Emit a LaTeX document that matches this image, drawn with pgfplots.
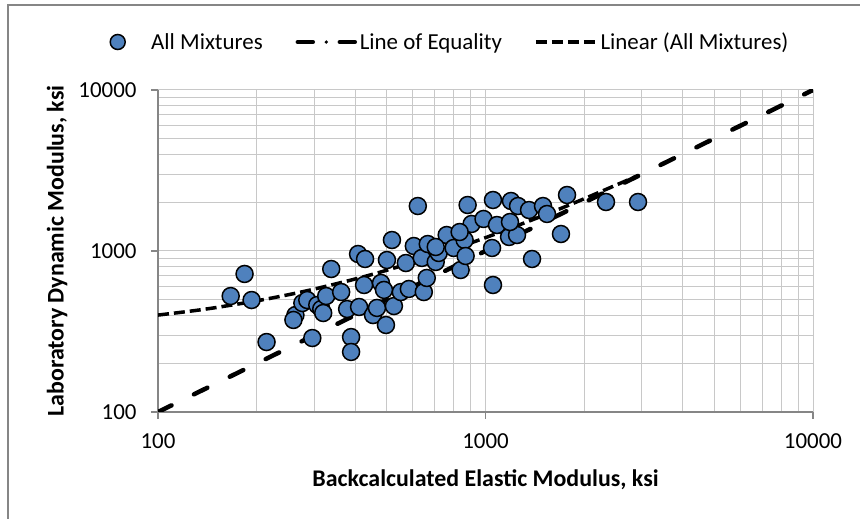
\documentclass[border=0pt]{standalone}
\usepackage{fontspec}
\setmainfont{Carlito}
\usepackage{pgfplots}
\usepackage{pgfplotstable}
\pgfplotsset{compat=1.18}
\definecolor{mixblue}{RGB}{79,129,189}
\definecolor{gridgray}{RGB}{200,200,200}
\definecolor{axisgray}{RGB}{134,134,134}
\pgfplotsset{
  linelegend/.style={legend image code/.code={\path[draw=none,fill=none] (0bp,0bp) -- (63bp,0bp); \draw[##1] (1bp,0bp) -- (62bp,0bp);}},
  eqlegend/.style={legend image code/.code={\path[draw=none,fill=none] (0bp,0bp) -- (63bp,0bp);
     \draw[black, line width=4.5bp, line cap=round, solid] (3bp,0bp) -- (18bp,0bp);
     \path[fill=black, draw=none] (31.5bp,0bp) circle (1.8bp);
     \draw[black, line width=4.5bp, line cap=round, solid] (45bp,0bp) -- (60bp,0bp);}},
  marklegend/.style={legend image code/.code={\path[draw=none,fill=none] (0bp,0bp) -- (63bp,0bp); \draw[##1, mark size=7.5bp] plot coordinates {(31.5bp,0bp)};}},
}
\pgfplotstableread{
x y
166.7 525
183.8 720
193.1 496
214.5 272
262.8 400
259.1 373
275.9 475
285.6 496
295.9 288
306.4 462
315.1 436
319.5 412
326.3 525
338 773
362.5 556
378 436
388.7 292
388.7 236
408.2 958
428.8 892
411.1 449
425.8 615
453.4 400
466.3 443
479.6 633
489.8 573
496.6 347
500.1 879
518 1170
525.2 455
551.5 556
571.2 842
583.4 581
604.2 1074
621.3 1903
639 905
648 556
661.7 680
666.3 1105
704.7 855
719.6 972
761.2 1257
799.3 1044
839.5 762
863.4 1170
869.5 931
881.8 1931
906.7 1472
986.1 1581
1047 1044
1054 2074
1054 615
1084 1450
1180 1222
1196 2045
1248 1257
1257 1903
1358 1797
1387 892
1498 1903
1541 1698
1700 1275
1774 2228
2333 2015
2922 2015
1188 1514
833.7 1312
704.7 1059
}\mixtures
\begin{document}
\begin{tikzpicture}
\useasboundingbox (0,0) rectangle (860bp,519bp);
\draw[color=axisgray, line width=1.2bp] (8bp,-20bp) rectangle (880bp,514bp);
\begin{axis}[
  at={(158bp,107bp)}, anchor=south west,
  width=655bp, height=322bp, scale only axis,
  xmode=log, ymode=log,
  xmin=100, xmax=10000, ymin=100, ymax=10000,
  xtick={100,1000,10000}, ytick={100,1000,10000},
  xticklabels={100,1000,10000}, yticklabels={100,1000,10000},
  minor xtick={200,300,400,500,600,700,800,900,2000,3000,4000,5000,6000,7000,8000,9000},
  minor ytick={200,300,400,500,600,700,800,900,2000,3000,4000,5000,6000,7000,8000,9000},
  grid=both,
  major grid style={gridgray, line width=1bp},
  minor grid style={gridgray, line width=1bp},
  axis lines=left, axis line style={-, axisgray, line width=1.2bp},
  tick align=outside, major tick length=7bp, minor tick length=0bp,
  tick style={axisgray, line width=1.2bp},
  ticklabel style={font=\fontsize{23}{27}\selectfont, text=black},
  xticklabel style={yshift=-11bp},
  yticklabel style={xshift=-11bp},
  xlabel={Backcalculated Elastic Modulus, ksi},
  ylabel={Laboratory Dynamic Modulus, ksi},
  label style={font=\bfseries\fontsize{24}{28}\selectfont},
  xlabel style={at={(axis description cs:0.5,-0.211)}, anchor=center},
  ylabel style={at={(axis description cs:-0.154,0.5)}, anchor=center},
  legend columns=3,
  legend cell align=left,
  legend style={at={(0.428,1.149)}, anchor=center, draw=none, fill=none,
    font=\fontsize{23}{27}\selectfont, nodes={inner xsep=2bp},
    /tikz/every even column/.append style={column sep=30bp}},
]
\addplot[only marks, mark=*, mark size=8.5bp,
  mark options={fill=mixblue, draw=black, line width=1.5bp}, marklegend]
  table[x=x,y=y] {\mixtures};
\addlegendentry{All Mixtures}
\addplot[black, line width=4.5bp, line cap=round, dash pattern=on 15bp off 25bp, eqlegend]
  coordinates {(100,100) (10000,10000)};
\addlegendentry{Line of Equality}
\addplot[black, line width=3.5bp, dash pattern=on 11bp off 5bp, smooth, linelegend]
  coordinates {(100,400) (125,422.5) (150,445) (200,490) (250,535) (300,580) (400,670) (500,760) (700,940) (1000,1210) (1500,1660) (2000,2110) (2922,2940)};
\addlegendentry{Linear (All Mixtures)}
\end{axis}
\end{tikzpicture}
\end{document}
